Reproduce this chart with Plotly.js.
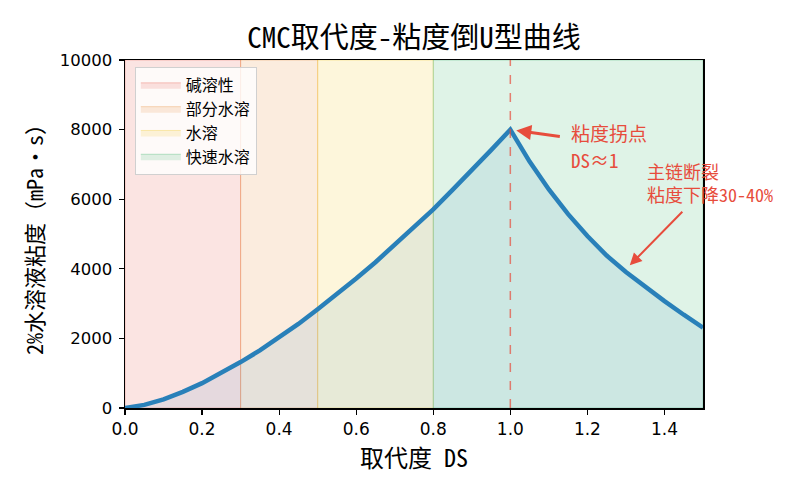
<!DOCTYPE html>
<html>
<head>
<meta charset="utf-8">
<script src="https://cdn.plot.ly/plotly-3.0.1.min.js"></script>
<style>
  html, body { margin: 0; padding: 0; background: #fff; }
  #plot { width: 800px; height: 500px; }
</style>
</head>
<body>
<div id="plot"></div>
<script>
// 取代度 DS 与 2% 水溶液粘度（读图估计值）
const ds = [0.0, 0.05, 0.1, 0.15, 0.2, 0.25, 0.3, 0.35, 0.4, 0.45, 0.5,
            0.55, 0.6, 0.65, 0.7, 0.75, 0.8, 0.85, 0.9, 0.95, 1.0,
            1.05, 1.1, 1.15, 1.2, 1.25, 1.3, 1.35, 1.4, 1.45, 1.5];
const viscosity = [0, 90, 250, 465, 715, 1000, 1320, 1655, 2025, 2415, 2840,
                   3265, 3720, 4190, 4685, 5195, 5710, 6270, 6830, 7410, 8000,
                   7080, 6280, 5570, 4940, 4380, 3910, 3470, 3070, 2680, 2310];

// 溶解区间
const regionNames = ["碱溶性", "部分水溶", "水溶", "快速水溶"];
const regionStart = [0.0, 0.3, 0.5, 0.8];
const regionEnd = [0.3, 0.5, 0.8, 1.5];
const regionColors = ["231,76,60", "230,126,34", "241,196,15", "39,174,96"];

const xTicks = [0, 0.2, 0.4, 0.6, 0.8, 1.0, 1.2, 1.4];
const xTickText = ["0.0", "0.2", "0.4", "0.6", "0.8", "1.0", "1.2", "1.4"];
const yTicks = [0, 2000, 4000, 6000, 8000, 10000];
const yTickText = ["0", "2000", "4000", "6000", "8000", "10000"];

const yMax = 10000;
const mainFont = "Noto Sans Mono CJK SC, DejaVu Sans Mono, Noto Sans CJK SC, sans-serif";
const tickFont = "DejaVu Sans, sans-serif";
const red = "#e74c3c";

const traces = regionNames.map((name, i) => ({
  x: [regionStart[i], regionEnd[i], regionEnd[i], regionStart[i], regionStart[i]],
  y: [0, 0, yMax, yMax, 0],
  type: "scatter",
  mode: "lines",
  fill: "toself",
  fillcolor: "rgba(" + regionColors[i] + ",0.15)",
  line: { color: "rgba(" + regionColors[i] + ",0.3)", width: 1 },
  name: name,
  hoverinfo: "skip"
}));

traces.push({
  x: ds,
  y: viscosity,
  type: "scatter",
  mode: "lines",
  fill: "tozeroy",
  fillcolor: "rgba(41,128,185,0.1)",
  line: { color: "#2980b9", width: 4.5 },
  showlegend: false,
  name: "粘度"
});

const layout = {
  width: 800,
  height: 500,
  margin: { l: 125, r: 97, t: 60, b: 92 },
  paper_bgcolor: "#fff",
  plot_bgcolor: "#fff",
  font: { family: mainFont, size: 14, color: "#000" },
  title: {
    text: "CMC取代度-粘度倒U型曲线",
    font: { family: mainFont, size: 29, color: "#000" },
    x: 0.5175, xanchor: "center", y: 0.925, yanchor: "middle"
  },
  xaxis: {
    range: [0, 1.5],
    tickvals: xTicks,
    ticktext: xTickText,
    ticks: "outside", ticklen: 5, tickwidth: 1.2, tickcolor: "#000",
    showline: true, linecolor: "#000", linewidth: 1.5, mirror: true,
    showgrid: false, zeroline: false,
    tickfont: { family: tickFont, size: 17 },
    title: { text: "取代度 DS", font: { size: 24 }, standoff: 10 }
  },
  yaxis: {
    range: [0, yMax],
    tickvals: yTicks,
    ticktext: yTickText,
    ticks: "outside", ticklen: 5, tickwidth: 1.2, tickcolor: "#000",
    showline: true, linecolor: "#000", linewidth: 1.5, mirror: true,
    showgrid: false, zeroline: false,
    tickfont: { family: tickFont, size: 16.5 },
    ticklabelstandoff: 3,
    title: { text: "2%水溶液粘度（mPa·s）", font: { size: 22 }, standoff: 10 }
  },
  legend: {
    x: 0.017, y: 0.98, xanchor: "left", yanchor: "top",
    bgcolor: "rgba(255,255,255,0.8)",
    bordercolor: "#d0d0d0", borderwidth: 1,
    font: { size: 16 },
    tracegroupgap: 0,
    itemwidth: 40
  },
  shapes: [{
    type: "line", xref: "x", yref: "paper",
    x0: 1.0, x1: 1.0, y0: 0, y1: 1,
    line: { color: "rgba(231,76,60,0.7)", width: 1.5, dash: "dash" }
  }],
  annotations: [
    {
      x: 1.0, y: 8000, xref: "x", yref: "y",
      text: "", showarrow: true,
      ax: 51, ay: 7, axref: "pixel", ayref: "pixel",
      arrowhead: 2, arrowsize: 1, arrowwidth: 3, arrowcolor: red, standoff: 6
    },
    {
      x: 1.152, y: 7930, xref: "x", yref: "y",
      xanchor: "left", yanchor: "middle",
      text: "粘度拐点", showarrow: false,
      font: { size: 19, color: red }
    },
    {
      x: 1.152, y: 7140, xref: "x", yref: "y",
      xanchor: "left", yanchor: "middle",
      text: "DS≈1", showarrow: false,
      font: { size: 19, color: red }
    },
    {
      x: 1.31, y: 4100, xref: "x", yref: "y",
      text: "", showarrow: true,
      ax: 54, ay: -55, axref: "pixel", ayref: "pixel",
      arrowhead: 2, arrowsize: 1.2, arrowwidth: 2, arrowcolor: red, standoff: 0
    },
    {
      x: 1.349, y: 6490, xref: "x", yref: "y",
      xanchor: "left", yanchor: "middle", align: "left",
      text: "主链断裂<br>粘度下降30-40%", showarrow: false,
      font: { size: 18, color: red }
    }
  ]
};

Plotly.newPlot("plot", traces, layout, { displayModeBar: false, staticPlot: true });
</script>
</body>
</html>
